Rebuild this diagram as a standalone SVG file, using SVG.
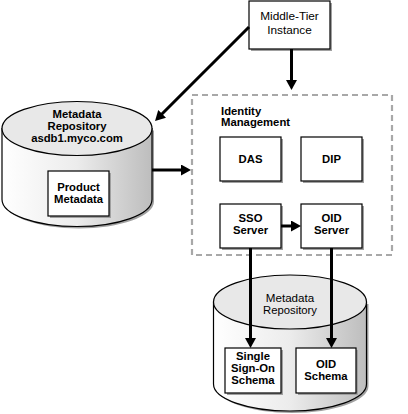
<svg xmlns="http://www.w3.org/2000/svg" width="408" height="414" viewBox="0 0 408 414">
<style>
text{font-family:"Liberation Sans",Arial,sans-serif;font-size:11.3px;fill:#000}
.b{font-weight:bold}
.n{font-size:11.8px}
.c{text-anchor:middle}
.box{fill:#fff;stroke:#000;stroke-width:1.2}
.sh{fill:#a0a0a0}
.cyl{fill:url(#g);stroke:#000;stroke-width:1.2}
.top{fill:#e8e8e8;stroke:#000;stroke-width:1.2}
.conn{stroke:#000;stroke-width:3;fill:none;marker-end:url(#ah)}
</style>
<defs>
<linearGradient id="g" x1="0" y1="0" x2="1" y2="0">
<stop offset="0" stop-color="#ffffff"/>
<stop offset="0.5" stop-color="#ececec"/>
<stop offset="1" stop-color="#bdbdbd"/>
</linearGradient>
<marker id="ah" markerUnits="userSpaceOnUse" markerWidth="11" markerHeight="11" refX="2" refY="5.5" orient="auto" viewBox="0 0 10 11">
<path d="M0,0 L10,5.5 L0,11 Z" fill="#000"/>
</marker>
</defs>
<rect width="408" height="414" fill="#fff"/>

<g id="middle-tier">
<rect class="sh" x="251" y="3" width="81" height="48"/>
<rect class="box" x="249" y="1" width="81" height="48"/>
<text class="c n" x="289.5" y="20">Middle-Tier</text>
<text class="c n" x="289.5" y="33.5">Instance</text>
</g>

<g id="metadata-repo-top">
<path class="sh" d="M4,130.5 L4,201.5 A75,27 0 0 0 154,201.5 L154,130.5 Z"/>
<path class="cyl" d="M2,128.5 L2,199.5 A75,27 0 0 0 152,199.5 L152,128.5 Z"/>
<ellipse class="top" cx="77" cy="128.5" rx="75" ry="27"/>
<text class="b c" x="77" y="118.3">Metadata</text>
<text class="b c" x="77" y="129.8">Repository</text>
<text class="b c" x="77" y="141.5">asdb1.myco.com</text>
</g>

<g id="product-metadata">
<rect class="sh" x="50" y="173" width="61" height="45"/>
<rect class="box" x="48" y="171" width="61" height="45"/>
<text class="b c" x="78.5" y="191">Product</text>
<text class="b c" x="78.5" y="203">Metadata</text>
</g>

<g id="identity-management">
<rect x="192" y="95" width="200" height="160" fill="none" stroke="#a8a8a8" stroke-width="2.2" stroke-dasharray="6 4"/>
<text class="b" x="221" y="115">Identity</text>
<text class="b" x="221" y="126">Management</text>
</g>

<g id="das">
<rect class="sh" x="222" y="139" width="61" height="44"/>
<rect class="box" x="220" y="137" width="61" height="44"/>
<text class="b c" x="250.5" y="163">DAS</text>
</g>

<g id="dip">
<rect class="sh" x="303" y="139" width="61" height="44"/>
<rect class="box" x="301" y="137" width="61" height="44"/>
<text class="b c" x="331.5" y="163">DIP</text>
</g>

<g id="sso-server">
<rect class="sh" x="222" y="206" width="61" height="44"/>
<rect class="box" x="220" y="204" width="61" height="44"/>
<text class="b c" x="250.5" y="222">SSO</text>
<text class="b c" x="250.5" y="234">Server</text>
</g>

<g id="oid-server">
<rect class="sh" x="303" y="206" width="61" height="44"/>
<rect class="box" x="301" y="204" width="61" height="44"/>
<text class="b c" x="331.5" y="222">OID</text>
<text class="b c" x="331.5" y="234">Server</text>
</g>

<g id="metadata-repo-bottom">
<path class="sh" d="M215.5,304 L215.5,386 A76.5,27 0 0 0 368.5,386 L368.5,304 Z"/>
<path class="cyl" d="M213.5,302 L213.5,384 A76.5,27 0 0 0 366.5,384 L366.5,302 Z"/>
<ellipse class="top" cx="290" cy="302" rx="76.5" ry="27"/>
<text class="c" x="290" y="302" style="font-size:11.6px">Metadata</text>
<text class="c" x="290" y="314">Repository</text>
</g>

<g id="sso-schema">
<rect class="sh" x="227" y="350" width="56" height="45"/>
<rect class="box" x="225" y="348" width="56" height="45"/>
<text class="b c" x="253" y="360">Single</text>
<text class="b c" x="253" y="372">Sign-On</text>
<text class="b c" x="253" y="384">Schema</text>
</g>

<g id="oid-schema">
<rect class="sh" x="298" y="350" width="60" height="45"/>
<rect class="box" x="296" y="348" width="60" height="45"/>
<text class="b c" x="326" y="368">OID</text>
<text class="b c" x="326" y="380">Schema</text>
</g>

<g id="connectors">
<line class="conn" x1="291.5" y1="49" x2="291.5" y2="82"/>
<line class="conn" x1="249" y1="27" x2="160.7" y2="115.3"/>
<line class="conn" x1="152" y1="170" x2="183" y2="170"/>
<line class="conn" x1="281" y1="226" x2="293" y2="226"/>
<line class="conn" x1="250.5" y1="248" x2="250.5" y2="340"/>
<line class="conn" x1="331.5" y1="248" x2="331.5" y2="340"/>
</g>
</svg>
